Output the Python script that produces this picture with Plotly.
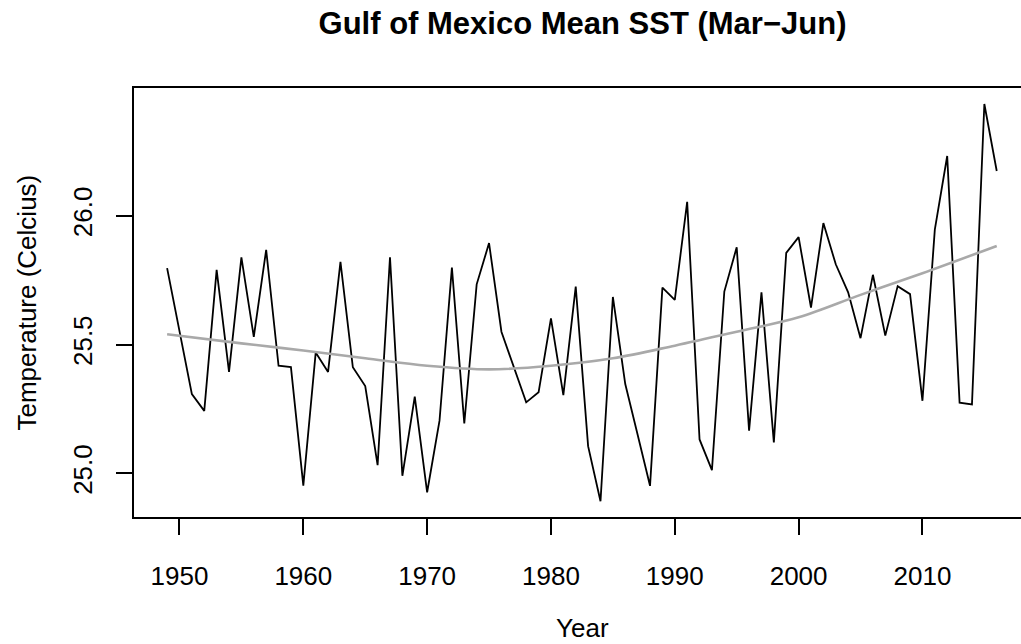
import plotly.graph_objects as go

# Mean sea surface temperature, Gulf of Mexico, March-June
years = list(range(1949, 2017))
sst = [
    25.797, 25.553, 25.308, 25.243, 25.790, 25.394, 25.839, 25.530, 25.868, 25.418,
    25.413, 24.953, 25.469, 25.394, 25.821, 25.412, 25.339, 25.032, 25.839, 24.991,
    25.298, 24.927, 25.205, 25.799, 25.194, 25.734, 25.894, 25.550, 25.413, 25.276,
    25.315, 25.602, 25.304, 25.725, 25.106, 24.892, 25.685, 25.347, 25.150, 24.952,
    25.721, 25.674, 26.054, 25.132, 25.013, 25.706, 25.878, 25.166, 25.703, 25.120,
    25.856, 25.917, 25.644, 25.972, 25.812, 25.703, 25.525, 25.771, 25.535, 25.727,
    25.696, 25.282, 25.946, 26.232, 25.275, 25.268, 26.434, 26.174,
]

# Smoothed long-term trend
trend_years = [1949, 1955, 1960, 1965, 1970, 1975, 1980, 1985, 1990, 1995, 2000, 2005, 2010, 2016]
trend_sst = [25.540, 25.505, 25.477, 25.447, 25.418, 25.404, 25.418, 25.447, 25.496,
             25.550, 25.606, 25.693, 25.777, 25.883]

x_ticks = [1950, 1960, 1970, 1980, 1990, 2000, 2010]
y_ticks = [25.0, 25.5, 26.0]

FONT = "Liberation Sans, Arial, Helvetica, sans-serif"

# plot region in pixels
L, T, B = 134, 88, 517
W, H = 1021, 644
PW, PH = W - L, B - T

fig = go.Figure()
fig.add_trace(go.Scatter(
    x=years, y=sst, mode="lines",
    line=dict(color="black", width=1.8),
    hoverinfo="x+y", showlegend=False,
))
fig.add_trace(go.Scatter(
    x=trend_years, y=trend_sst, mode="lines",
    line=dict(color="#a9a9a9", width=2.6, shape="spline", smoothing=1.0),
    hoverinfo="skip", showlegend=False,
))

fig.update_layout(
    width=W, height=H,
    margin=dict(l=L, r=0, t=T, b=H - B),
    paper_bgcolor="white", plot_bgcolor="white",
    font=dict(family=FONT, size=26, color="black"),
    title=dict(
        text="<b>Gulf of Mexico Mean SST (Mar\u2212Jun)</b>",
        x=(582.5 - L) / PW, xref="paper", xanchor="center",
        y=1 - 23 / H, yref="container", yanchor="middle",
        font=dict(family=FONT, size=31, color="black"),
    ),
    xaxis=dict(
        range=[1946.326, 2017.96],
        tickmode="array", tickvals=x_ticks, ticktext=[str(v) for v in x_ticks],
        ticks="outside", ticklen=16, tickwidth=1.5, tickcolor="black",
        showline=True, linecolor="black", linewidth=1.8, mirror=True,
        showgrid=False, zeroline=False,
        ticklabelstandoff=19,
        tickfont=dict(family=FONT, size=26, color="black"),
    ),
    yaxis=dict(
        range=[24.831, 26.496],
        tickmode="array", tickvals=y_ticks, ticktext=["25.0", "25.5", "26.0"],
        ticks="outside", ticklen=16, tickwidth=1.5, tickcolor="black",
        tickangle=-90,
        showline=True, linecolor="black", linewidth=1.8, mirror=False,
        showgrid=False, zeroline=False,
        ticklabelstandoff=14,
        tickfont=dict(family=FONT, size=26, color="black"),
    ),
    annotations=[
        dict(text="Year", x=(582.5 - L) / PW, y=-(628 - B) / PH,
             xref="paper", yref="paper", xanchor="center", yanchor="middle",
             showarrow=False, font=dict(family=FONT, size=26, color="black")),
        dict(text="Temperature (Celcius)", x=-(L - 26) / PW, y=0.5,
             xref="paper", yref="paper", xanchor="center", yanchor="middle",
             textangle=-90, showarrow=False,
             font=dict(family=FONT, size=26, color="black")),
    ],
)

fig.write_html("out.html")
